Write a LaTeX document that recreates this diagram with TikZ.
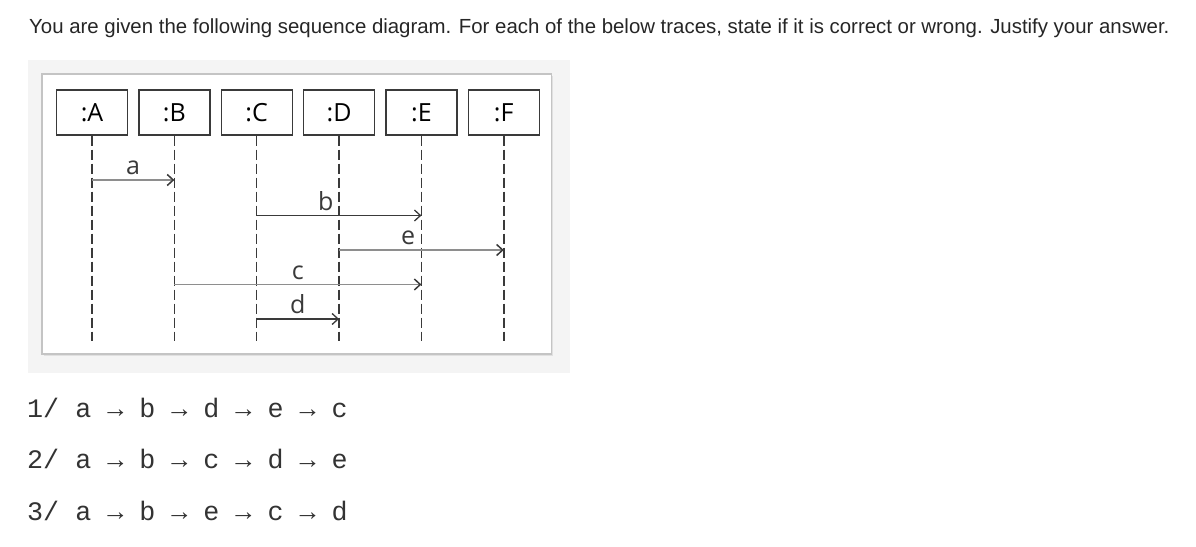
\documentclass[tikz,border=0pt]{standalone}
\usepackage{fontspec}
\setmainfont{Liberation Sans}
\newfontfamily\diagfont{Open Sans}
\newfontfamily\tracefont{Liberation Mono}
\usetikzlibrary{arrows.meta,calc,positioning}

\definecolor{panelgray}{HTML}{F4F4F4}
\definecolor{framegray}{HTML}{C4C4C4}
\definecolor{linedark}{HTML}{3A3A3A}
\definecolor{linegray}{HTML}{8E8E8E}

\begin{document}
\begin{tikzpicture}[x=1pt,y=-1pt,
	obj/.style={draw=linedark,line width=1.4pt,fill=white,minimum width=71pt,minimum height=45pt,inner sep=0pt,font=\diagfont\fontsize{25}{28}\selectfont},
	life/.style={draw=linedark,line width=1.5pt,dash pattern=on 10pt off 4pt},
	msgdark/.style={draw=linedark,line width=1.3pt,-{Straight Barb[length=6pt,width=11pt]}},
	msggray/.style={draw=linegray,line width=1.5pt,-{Straight Barb[length=6pt,width=11pt,color=linedark]}},
	lbl/.style={anchor=base,yshift=5.5pt,inner sep=0pt,font=\diagfont\fontsize{25}{28}\selectfont,text=linedark},
	trace/.style={anchor=base west,inner sep=0pt,font=\tracefont\fontsize{26.7}{30}\selectfont,text=black!80}]
	
	\useasboundingbox (0,0) rectangle (1196,546);
	\fill[white] (0,0) rectangle (1196,546);
	
	% question
	\node[anchor=base west,inner sep=0pt,font=\fontsize{20.4}{24}\selectfont,text=black!85] (question) at (29,33)
	{You are given the following sequence diagram. For each of the below traces, state if it is correct or wrong. Justify your answer.};
	
	% picture frame
	\fill[panelgray] (28,60) rectangle (570,373);
	\fill[black!12] (43.5,75.5) rectangle (553,356);
	\draw[framegray,line width=1.3pt,fill=white] (42,74) rectangle (551.5,354);
	
	% objects and lifelines
	\foreach \n [count=\i from 0] in {A,B,C,D,E,F}{
		\node[obj] (\n) at (92+82.35*\i,112.5) {:\n};
		\coordinate (\n end) at (92+82.35*\i,341);
		\draw[life] (\n.south) -- (\n end);
	}
	
	% messages
	\draw[msggray] (A |- 0,180) -- node[lbl] {a} (B |- 0,180);
	\draw[msgdark] (C |- 0,215.5) -- node[lbl,pos=.42] {b} (E |- 0,215.5);
	\draw[msggray] (D |- 0,250) -- node[lbl,pos=.42] {e} (F |- 0,250);
	\draw[msggray] (B |- 0,284.5) -- node[lbl] {c} (E |- 0,284.5);
	\draw[msgdark] (C |- 0,319) -- node[lbl] {d} (D |- 0,319);
	
	% traces
	\node[trace] (trace1) at (27,417) {1/ a → b → d → e → c};
	\node[trace] (trace2) at (27,468) {2/ a → b → c → d → e};
	\node[trace] (trace3) at (27,520) {3/ a → b → e → c → d};
	
\end{tikzpicture}
\end{document}
